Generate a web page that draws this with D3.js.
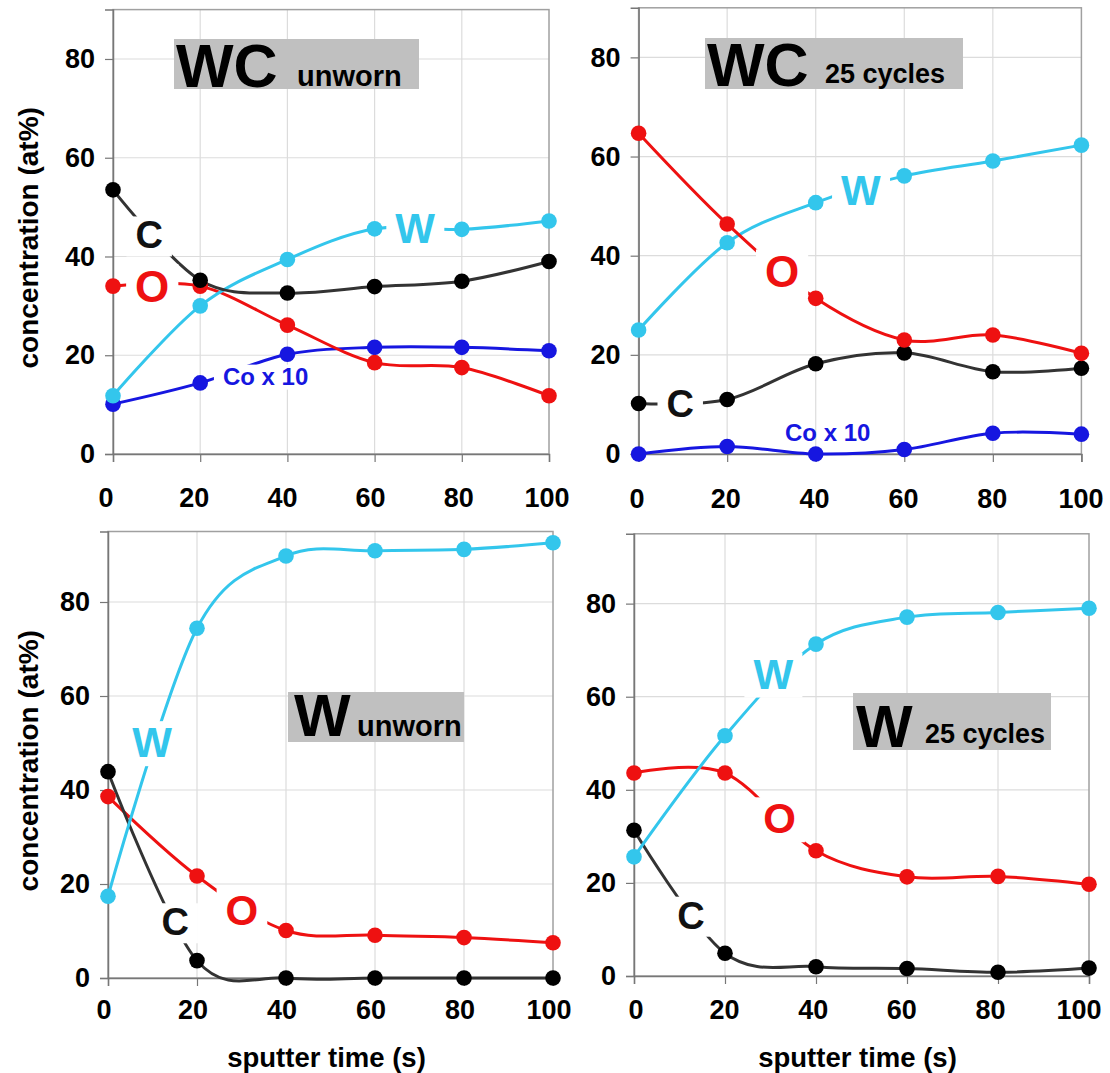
<!DOCTYPE html>
<html>
<head>
<meta charset="utf-8">
<script src="https://cdn.jsdelivr.net/npm/d3@7"></script>
<style>
  body { margin: 0; background: #fff; }
  svg { display: block; }
  text { font-family: "Liberation Sans", Arial, sans-serif; font-weight: bold; }
</style>
</head>
<body>
<svg id="chart" width="1110" height="1073"></svg>
<script>
// sputter time (s)
const times = [0, 20, 40, 60, 80, 100];
const xTicks = [0, 20, 40, 60, 80, 100];
const yTicks = [0, 20, 40, 60, 80];

// WC, unworn (at%)
const wcUnwornC = [53.5, 35.2, 32.6, 33.9, 35.0, 39.0];
const wcUnwornO = [34.0, 34.0, 26.1, 18.5, 17.5, 11.8];
const wcUnwornW = [11.8, 30.0, 39.4, 45.6, 45.5, 47.2];
const wcUnwornCo10 = [10.1, 14.4, 20.2, 21.6, 21.6, 20.9];

// WC, 25 cycles (at%)
const wc25O = [64.7, 46.4, 31.4, 23.0, 24.0, 20.3];
const wc25W = [25.0, 42.6, 50.7, 56.1, 59.1, 62.3];
const wc25C = [10.2, 11.0, 18.2, 20.4, 16.6, 17.3];
const wc25Co10 = [0.0, 1.5, 0.0, 0.9, 4.2, 4.0];

// W, unworn (at%)
const wUnwornW = [17.4, 74.4, 89.8, 90.9, 91.2, 92.6];
const wUnwornC = [43.9, 3.7, 0.0, 0.0, 0.0, 0.0];
const wUnwornO = [38.6, 21.7, 10.1, 9.1, 8.6, 7.5];

// W, 25 cycles (at%)
const w25W = [25.6, 51.6, 71.3, 77.1, 78.1, 79.0];
const w25O = [43.6, 43.6, 26.9, 21.3, 21.4, 19.7];
const w25C = [31.3, 4.9, 2.0, 1.6, 0.8, 1.7];

const colC = "#111111";
const colO = "#ee1111";
const colW = "#33c6ec";
const colCo = "#1616e0";

const panels = [
  {
    left: 113, right: 549, y0: 454, top: 9.6, yMax: 90, tickLabelSpan: [106, 547],
    series: [
      { v: wcUnwornCo10, c: colCo },
      { v: wcUnwornO, c: colO },
      { v: wcUnwornW, c: colW },
      { v: wcUnwornC, c: colC }
    ],
    labels: [
      { t: "C", x: 8.3, y: 44.4, c: colC, s: 38, bg: true },
      { t: "O", x: 9.0, y: 34.0, c: colO, s: 44, bg: true },
      { t: "W", x: 69.3, y: 45.8, c: colW, s: 42, bg: true },
      { t: "Co x 10", x: 35.0, y: 15.8, c: colCo, s: 24, bg: true }
    ],
    title: { big: "WC", small: "unworn", box: [174, 39, 245, 50], bigX: 176, bigY: 87, bigS: 61, smallX: 297, smallY: 86, smallS: 29 },
    xLabelDy: 44, yTitle: true, xTitle: false
  },
  {
    left: 638.6, right: 1081.4, y0: 454, top: 7.8, yMax: 90, tickLabelSpan: [637, 1081],
    series: [
      { v: wc25Co10, c: colCo },
      { v: wc25C, c: colC },
      { v: wc25W, c: colW },
      { v: wc25O, c: colO }
    ],
    labels: [
      { t: "W", x: 50.2, y: 53.2, c: colW, s: 42, bg: true },
      { t: "O", x: 32.4, y: 36.8, c: colO, s: 44, bg: true },
      { t: "C", x: 9.4, y: 10.2, c: colC, s: 38, bg: true },
      { t: "Co x 10", x: 42.7, y: 4.3, c: colCo, s: 24, bg: false }
    ],
    title: { big: "WC", small: "25 cycles", box: [705, 38, 258, 51], bigX: 707, bigY: 86, bigS: 61, smallX: 825, smallY: 83, smallS: 27 },
    xLabelDy: 45, yTitle: false, xTitle: false
  },
  {
    left: 108, right: 553, y0: 978, top: 531.5, yMax: 95, tickLabelSpan: [104, 549],
    series: [
      { v: wUnwornO, c: colO },
      { v: wUnwornC, c: colC },
      { v: wUnwornW, c: colW }
    ],
    labels: [
      { t: "W", x: 9.9, y: 50.2, c: colW, s: 42, bg: true },
      { t: "C", x: 15.1, y: 12.0, c: colC, s: 38, bg: true },
      { t: "O", x: 30.1, y: 14.6, c: colO, s: 42, bg: true }
    ],
    title: { big: "W", small: "unworn", box: [288, 692, 176, 50], bigX: 294, bigY: 736, bigS: 60, smallX: 357, smallY: 736, smallS: 29 },
    xLabelDy: 32, yTitle: true, xTitle: true
  },
  {
    left: 634, right: 1089, y0: 976, top: 533.8, yMax: 95, tickLabelSpan: [636, 1079],
    series: [
      { v: w25C, c: colC },
      { v: w25O, c: colO },
      { v: w25W, c: colW }
    ],
    labels: [
      { t: "W", x: 30.6, y: 65.0, c: colW, s: 42, bg: true },
      { t: "O", x: 32.0, y: 33.9, c: colO, s: 42, bg: true },
      { t: "C", x: 12.5, y: 13.1, c: colC, s: 38, bg: true }
    ],
    title: { big: "W", small: "25 cycles", box: [853, 693, 198, 57], bigX: 856, bigY: 747, bigS: 60, smallX: 925, smallY: 743, smallS: 27 },
    xLabelDy: 34, yTitle: false, xTitle: true
  }
];

const svg = d3.select("#chart");
const boldFont = "Liberation Sans, Arial, sans-serif";

panels.forEach(p => {
  const x = d3.scaleLinear().domain([0, 100]).range([p.left, p.right]);
  const xl = d3.scaleLinear().domain([0, 100]).range(p.tickLabelSpan);
  const y = d3.scaleLinear().domain([0, p.yMax]).range([p.y0, p.top]);
  const g = svg.append("g");

  // grid
  g.append("g").selectAll("line").data(xTicks.slice(1, -1)).join("line")
    .attr("x1", d => x(d)).attr("x2", d => x(d))
    .attr("y1", y(0)).attr("y2", y(p.yMax))
    .attr("stroke", "#dcdcdc").attr("stroke-width", 1.2);
  g.append("g").selectAll("line").data(yTicks.slice(1)).join("line")
    .attr("x1", x(0)).attr("x2", x(100))
    .attr("y1", d => y(d)).attr("y2", d => y(d))
    .attr("stroke", "#dcdcdc").attr("stroke-width", 1.2);

  // frame
  g.append("rect")
    .attr("x", x(0)).attr("y", y(p.yMax))
    .attr("width", x(100) - x(0)).attr("height", y(0) - y(p.yMax))
    .attr("fill", "none").attr("stroke", "#a0a0a0").attr("stroke-width", 1.5);

  // y axis
  const yAxis = d3.axisLeft(y).tickValues(yTicks).tickSize(8).tickPadding(10).tickFormat(d3.format("d"));
  const ya = g.append("g").attr("transform", `translate(${x(0)},0)`).call(yAxis);
  ya.select(".domain").attr("stroke", "#777").attr("stroke-width", 1.5);
  ya.selectAll(".tick line").attr("stroke", "#777").attr("stroke-width", 1.2);
  ya.selectAll(".tick text").attr("font-size", 27).attr("fill", "#000")
    .attr("font-family", boldFont).attr("font-weight", "bold");

  // x axis: tick marks on the time scale, labels laid out along their own span
  const xAxis = d3.axisBottom(x).tickValues(xTicks).tickSize(8).tickFormat("");
  const xa = g.append("g").attr("transform", `translate(0,${y(0)})`).call(xAxis);
  xa.select(".domain").attr("stroke", "#777").attr("stroke-width", 1.5);
  xa.selectAll(".tick line").attr("stroke", "#777").attr("stroke-width", 1.2);
  g.append("g").selectAll("text").data(xTicks).join("text")
    .attr("x", d => xl(d)).attr("y", y(0) + p.xLabelDy)
    .attr("dy", "0.35em").attr("text-anchor", "middle")
    .attr("font-size", 27).attr("fill", "#000").text(d3.format("d"));

  // series lines
  const line = d3.line().x((d, i) => x(times[i])).y(d => y(d)).curve(d3.curveCardinal.tension(0));
  p.series.forEach(s => {
    g.append("path").datum(s.v).attr("d", line)
      .attr("fill", "none").attr("stroke", s.c === colC ? "#333" : s.c)
      .attr("stroke-width", 3).attr("stroke-linejoin", "round");
  });

  // series labels, each on a white patch that breaks its line
  p.labels.forEach(l => {
    const lg = g.append("g");
    const bg = lg.append("rect").attr("fill", "#fff");
    const t = lg.append("text")
      .attr("x", x(l.x)).attr("y", y(l.y))
      .attr("text-anchor", "middle").attr("dy", "0.36em")
      .attr("font-size", l.s).attr("fill", l.c).text(l.t);
    if (l.bg) {
      const b = t.node().getBBox();
      bg.attr("x", b.x - 9).attr("y", b.y + 2).attr("width", b.width + 18).attr("height", b.height - 2);
    } else {
      bg.remove();
    }
  });

  // markers
  p.series.forEach(s => {
    g.append("g").selectAll("circle").data(s.v).join("circle")
      .attr("cx", (d, i) => x(times[i])).attr("cy", d => y(d))
      .attr("r", 7.8).attr("fill", s.c === colC ? "#000" : s.c);
  });

  // title box
  const tt = p.title;
  g.append("rect").attr("x", tt.box[0]).attr("y", tt.box[1])
    .attr("width", tt.box[2]).attr("height", tt.box[3]).attr("fill", "#c0c0c0");
  g.append("text").attr("x", tt.bigX).attr("y", tt.bigY)
    .attr("font-size", tt.bigS).attr("fill", "#000").text(tt.big);
  g.append("text").attr("x", tt.smallX).attr("y", tt.smallY)
    .attr("font-size", tt.smallS).attr("fill", "#000").text(tt.small);

  // axis titles
  if (p.yTitle) {
    g.append("text")
      .attr("transform", `translate(28,${(y(0) + y(p.yMax)) / 2 + 6}) rotate(-90)`)
      .attr("text-anchor", "middle").attr("dy", "0.35em")
      .attr("font-size", 28).attr("fill", "#000").text("concentration (at%)");
  }
  if (p.xTitle) {
    g.append("text")
      .attr("x", (xl(0) + xl(100)) / 2).attr("y", 1057)
      .attr("text-anchor", "middle").attr("dy", "0.35em")
      .attr("font-size", 27.5).attr("fill", "#000").text("sputter time (s)");
  }
});
</script>
</body>
</html>
